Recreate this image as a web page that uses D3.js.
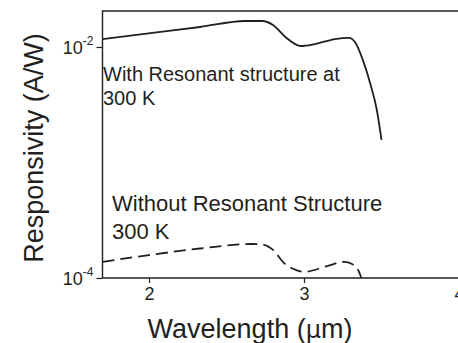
<!DOCTYPE html>
<html><head><meta charset="utf-8">
<script src="https://cdn.jsdelivr.net/npm/d3@7"></script>
<style>
html,body{margin:0;padding:0;background:#fff;}
svg{display:block;font-family:Arial,"Liberation Sans",Helvetica,sans-serif;}
</style></head>
<body>
<svg id="chart" width="458" height="343"></svg>
<script>
// Data
const withWavelength = [1.70, 2.01, 2.33, 2.62, 2.73, 2.80, 2.88, 2.98, 3.07, 3.20, 3.29, 3.33, 3.38, 3.43, 3.47, 3.50];
const withResponsivity = [0.0117, 0.0132, 0.0149, 0.0168, 0.0168, 0.0155, 0.0122, 0.0102, 0.0106, 0.0117, 0.0120, 0.0110, 0.0077, 0.00469, 0.00285, 0.00157];
const withoutWavelength = [1.70, 2.00, 2.33, 2.66, 2.73, 2.80, 2.87, 2.95, 3.00, 3.15, 3.26, 3.31, 3.35, 3.37];
const withoutResponsivity = [1.38e-4, 1.58e-4, 1.80e-4, 1.97e-4, 1.95e-4, 1.75e-4, 1.35e-4, 1.17e-4, 1.13e-4, 1.27e-4, 1.38e-4, 1.32e-4, 1.17e-4, 1.0e-4];
const xTicks = [2, 3, 4];
const xTickLabels = ["2", "3", "4"];
const yTicks = [1e-4, 1e-2];
const yTickExponents = ["-4", "-2"];
const labelWith = ["With Resonant structure at", "300 K"];
const labelWithout = ["Without Resonant Structure", "300 K"];

(function () {
const ink = "#231f20";
const svg = d3.select("#chart");
const x = d3.scaleLinear().domain([2, 3]).range([149, 304]);
const y = d3.scaleLog().domain([1e-4, 1e-2]).range([278, 47]);
const pLeft = x(1.7), pRight = 470, pTop = y(0.0205), pBottom = y(1e-4);

// frame (left, top, bottom)
svg.append("path")
  .attr("d", `M${pRight},${pTop}H${pLeft}V${pBottom}H${pRight}`)
  .attr("fill", "none").attr("stroke", ink).attr("stroke-width", 1.4);

// x axis
const xAxis = svg.append("g").attr("transform", `translate(0,${pBottom})`)
  .call(d3.axisBottom(x).tickValues(xTicks).tickSize(5).tickPadding(4)
    .tickFormat((d, i) => xTickLabels[i]));
xAxis.select(".domain").remove();
xAxis.selectAll("line").attr("stroke", ink).attr("stroke-width", 1.2);
xAxis.selectAll("text").attr("fill", ink).attr("font-size", 18).attr("font-family", "Arial,'Liberation Sans',sans-serif");

// y axis
const yAxis = svg.append("g").attr("transform", `translate(${pLeft},0)`)
  .call(d3.axisLeft(y).tickValues(yTicks).tickSize(6).tickPadding(3).tickFormat(() => ""));
yAxis.select(".domain").remove();
yAxis.selectAll("line").attr("stroke", ink).attr("stroke-width", 1.2);
yAxis.selectAll(".tick").each(function(d, i) {
  const t = d3.select(this).select("text")
    .attr("fill", ink).attr("font-family", "Arial,'Liberation Sans',sans-serif")
    .attr("font-size", 18).attr("x", -9).attr("dy", "0.38em").attr("text-anchor", "end");
  t.append("tspan").text("10");
  t.append("tspan").attr("font-size", 12).attr("dy", "-0.75em").text(yTickExponents[i]);
});

// axis titles
svg.append("text").attr("x", 250).attr("y", 338).attr("text-anchor", "middle")
  .attr("font-size", 27).attr("fill", ink)
  .html("Wavelength (<tspan font-family='DejaVu Sans' font-size='24'>μ</tspan>m)");
svg.append("text").attr("transform", "translate(43,148) rotate(-90)")
  .attr("text-anchor", "middle").attr("font-size", 27).attr("fill", ink)
  .text("Responsivity (A/W)");

// curves
const line = d3.line().curve(d3.curveMonotoneX);
svg.append("path")
  .attr("d", line(withWavelength.map((w, i) => [x(w), y(withResponsivity[i])])))
  .attr("fill", "none").attr("stroke", ink).attr("stroke-width", 1.8);
svg.append("path")
  .attr("d", line(withoutWavelength.map((w, i) => [x(w), y(withoutResponsivity[i])])))
  .attr("fill", "none").attr("stroke", ink).attr("stroke-width", 1.8)
  .attr("stroke-dasharray", "12,6");

// annotations
const a1 = svg.append("text").attr("font-size", 20).attr("fill", ink);
labelWith.forEach((s, i) => a1.append("tspan").attr("x", 103).attr("y", 81 + i * 24).text(s));
const a2 = svg.append("text").attr("font-size", 22).attr("fill", ink);
labelWithout.forEach((s, i) => a2.append("tspan").attr("x", 112).attr("y", 211 + i * 28).text(s));
})();
</script>
</body></html>
